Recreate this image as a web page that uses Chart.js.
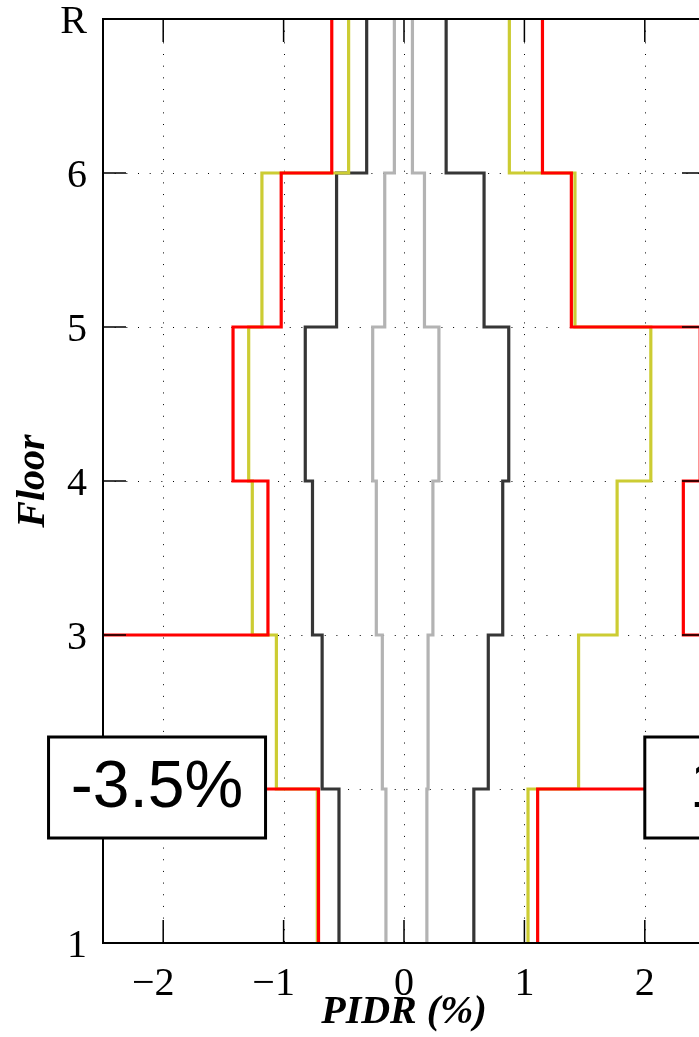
<!DOCTYPE html>
<html>
<head>
<meta charset="utf-8">
<script src="https://cdn.jsdelivr.net/npm/chart.js@4.4.1/dist/chart.umd.min.js"></script>
<style>
  html, body { margin: 0; padding: 0; background: #fff; overflow: hidden; }
  #wrap { position: relative; width: 760px; height: 1037px; }
</style>
</head>
<body>
<div id="wrap"><canvas id="pidrChart" width="760" height="1037"></canvas></div>
<script>
// floor levels (y) and their labels
const floorLevels = [1, 2, 3, 4, 5, 6, 7];
const floorLabels = ['1', '2', '3', '4', '5', '6', 'R'];
const xTickValues = [-2, -1, 0, 1, 2];

// PIDR (%) per story, story 1 (floor 1-2) up to story 6 (floor 6-R)
const grayNeg   = [-0.15, -0.18, -0.23, -0.26, -0.16, -0.08];
const grayPos   = [0.19, 0.20, 0.24, 0.29, 0.17, 0.07];
const darkNeg   = [-0.54, -0.68, -0.76, -0.82, -0.56, -0.31];
const darkPos   = [0.58, 0.70, 0.82, 0.87, 0.665, 0.35];
const yellowNeg = [-0.72, -1.06, -1.26, -1.29, -1.18, -0.46];
const yellowPos = [1.03, 1.45, 1.77, 2.05, 1.42, 0.875];
const redNeg    = [-0.71, -3.5, -1.13, -1.42, -1.02, -0.60];
const redPos    = [1.11, 11, 2.32, 2.46, 1.39, 1.15];

// off-scale values get a label box at this floor
const boxFloor = 2;
const boxLabels = [redNeg[1] + '%', redPos[1] + '%'];

const serif = "'Liberation Serif', 'Times New Roman', serif";

// turn story values into a step profile
function stepPoints(values) {
  const pts = [];
  values.forEach((v, i) => {
    pts.push({ x: v, y: floorLevels[i] });
    pts.push({ x: v, y: floorLevels[i + 1] });
  });
  return pts;
}

function stepSet(values, color) {
  return {
    data: stepPoints(values),
    showLine: true,
    borderColor: color,
    borderWidth: 3.2,
    borderJoinStyle: 'miter',
    borderCapStyle: 'butt',
    pointRadius: 0,
    tension: 0
  };
}

// grid dots, frame, inside ticks and label boxes (MATLAB look)
const matlabAxes = {
  id: 'matlabAxes',
  beforeDatasetsDraw(chart) {
    const { ctx, chartArea: a, scales: { x, y } } = chart;
    ctx.save();
    ctx.strokeStyle = '#000';
    ctx.lineWidth = 1;
    ctx.setLineDash([1, 10.67]);
    xTickValues.forEach(v => {
      const px = Math.round(x.getPixelForValue(v)) + 0.5;
      ctx.beginPath();
      ctx.moveTo(px, a.top);
      ctx.lineTo(px, a.bottom);
      ctx.stroke();
    });
    floorLevels.slice(1, -1).forEach(v => {
      const py = Math.round(y.getPixelForValue(v)) + 0.5;
      ctx.beginPath();
      ctx.moveTo(a.left, py);
      ctx.lineTo(a.right, py);
      ctx.stroke();
    });
    ctx.restore();
  },
  afterDatasetsDraw(chart) {
    const { ctx, chartArea: a, scales: { x, y } } = chart;
    ctx.save();
    ctx.strokeStyle = '#000';
    ctx.lineWidth = 1.5;
    const tick = 23;
    xTickValues.forEach(v => {
      const px = x.getPixelForValue(v);
      ctx.beginPath();
      ctx.moveTo(px, a.bottom); ctx.lineTo(px, a.bottom - tick);
      ctx.moveTo(px, a.top); ctx.lineTo(px, a.top + tick);
      ctx.stroke();
    });
    floorLevels.forEach(v => {
      const py = y.getPixelForValue(v);
      ctx.beginPath();
      ctx.moveTo(a.left, py); ctx.lineTo(a.left + tick, py);
      ctx.moveTo(a.right, py); ctx.lineTo(a.right - tick, py);
      ctx.stroke();
    });
    ctx.lineWidth = 2;
    ctx.strokeRect(a.left, a.top, a.right - a.left, a.bottom - a.top);
    ctx.restore();
  },
  afterDraw(chart) {
    const { ctx, scales: { x, y } } = chart;
    const w = 217, h = 101;
    const cy = y.getPixelForValue(boxFloor) - 1.5;
    const lefts = [x.getPixelForValue(-1.15) - w, x.getPixelForValue(2.0)];
    ctx.save();
    ctx.font = "66px 'Liberation Sans', Arial, sans-serif";
    ctx.textAlign = 'center';
    ctx.textBaseline = 'middle';
    boxLabels.forEach((txt, i) => {
      const bx = lefts[i], by = cy - h / 2;
      ctx.fillStyle = '#fff';
      ctx.fillRect(bx, by, w, h);
      ctx.strokeStyle = '#000';
      ctx.lineWidth = 3;
      ctx.strokeRect(bx, by, w, h);
      ctx.fillStyle = '#000';
      ctx.fillText(txt, bx + w / 2, cy + 1);
    });
    ctx.restore();
  }
};

const ctx = document.getElementById('pidrChart').getContext('2d');
new Chart(ctx, {
  type: 'scatter',
  data: {
    datasets: [
      stepSet(redNeg, '#ff0000'),
      stepSet(redPos, '#ff0000'),
      stepSet(yellowNeg, '#cccc33'),
      stepSet(yellowPos, '#cccc33'),
      stepSet(darkNeg, '#363636'),
      stepSet(darkPos, '#363636'),
      stepSet(grayNeg, '#b3b3b3'),
      stepSet(grayPos, '#b3b3b3')
    ]
  },
  options: {
    responsive: false,
    animation: false,
    devicePixelRatio: 1,
    layout: { padding: { top: 19, right: 55, bottom: 0, left: 0 } },
    plugins: { legend: { display: false }, tooltip: { enabled: false } },
    scales: {
      x: {
        type: 'linear',
        min: -2.5,
        max: 2.5,
        afterBuildTicks: s => { s.ticks = xTickValues.map(v => ({ value: v })); },
        afterFit: s => { s.height = 94; s.paddingLeft = 0; s.paddingRight = 0; },
        grid: { display: false },
        border: { display: false },
        ticks: {
          padding: 9,
          color: '#000',
          maxRotation: 0,
          autoSkip: false,
          font: { family: serif, size: 40 },
          // minus hangs left of the digit, as in the original
          callback: v => v < 0 ? '\u2212' + Math.abs(v) + '\u2002' : String(v)
        },
        title: {
          display: true,
          text: 'PIDR (%)',
          color: '#000',
          padding: 0,
          font: { family: serif, size: 40, style: 'italic', weight: 'bold' }
        }
      },
      y: {
        type: 'linear',
        min: 1,
        max: 7,
        afterBuildTicks: s => { s.ticks = floorLevels.map(v => ({ value: v })); },
        afterFit: s => { s.width = 103; s.paddingTop = 0; s.paddingBottom = 0; },
        grid: { display: false },
        border: { display: false },
        ticks: {
          padding: 8,
          color: '#000',
          autoSkip: false,
          labelOffset: 3,
          font: { family: serif, size: 40 },
          callback: v => floorLabels[floorLevels.indexOf(v)]
        },
        title: {
          display: true,
          text: 'Floor',
          color: '#000',
          padding: { top: 10, bottom: 0 },
          font: { family: serif, size: 40, style: 'italic', weight: 'bold' }
        }
      }
    }
  },
  plugins: [matlabAxes]
});
</script>
</body>
</html>
